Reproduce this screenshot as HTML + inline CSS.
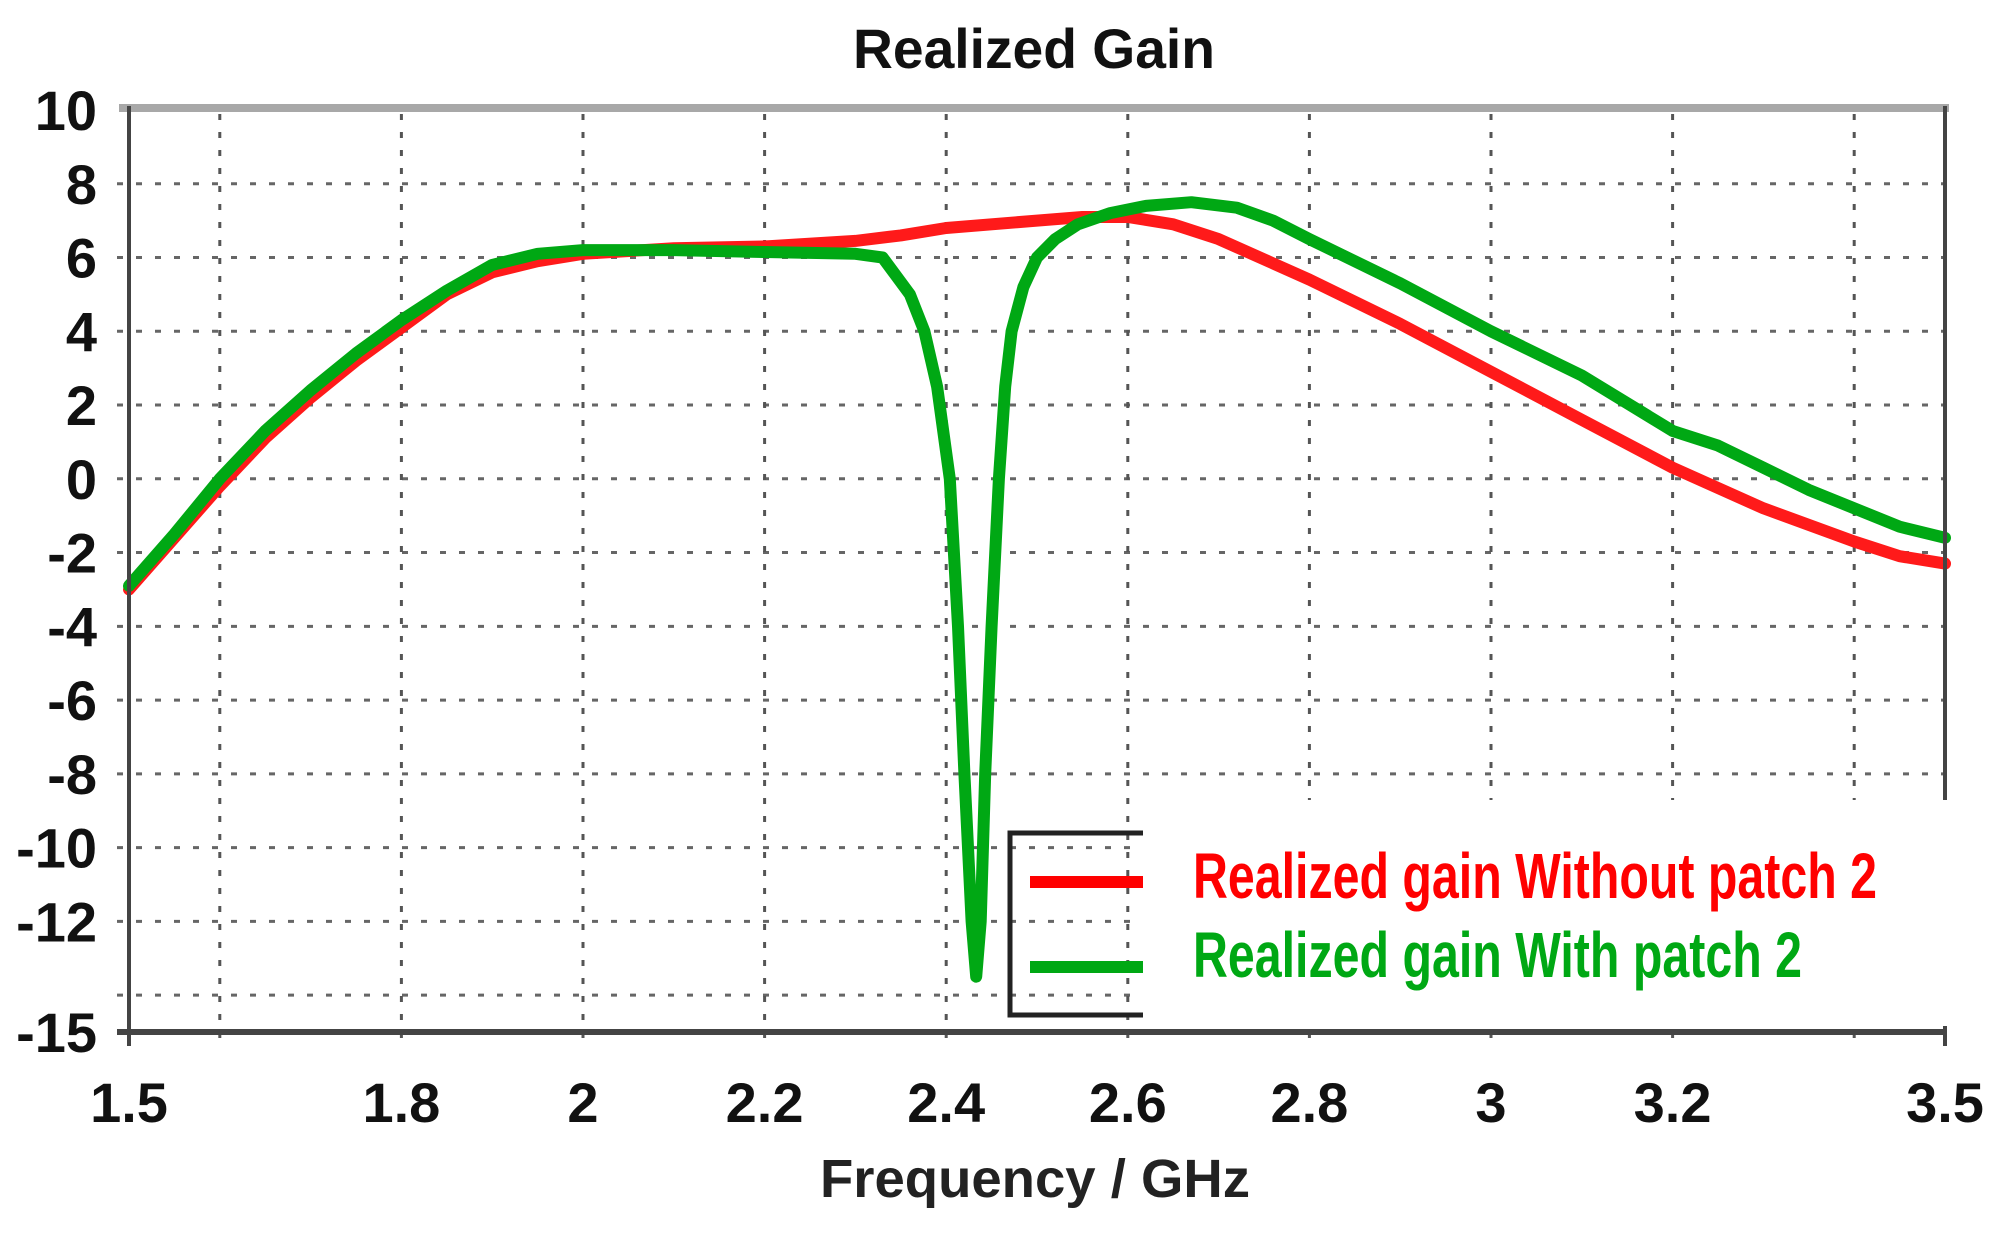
<!DOCTYPE html>
<html><head><meta charset="utf-8"><style>
html,body{margin:0;padding:0;background:#fff;}
svg{display:block;font-family:"Liberation Sans",sans-serif;}
</style></head><body>
<svg id="chart" width="2008" height="1234" viewBox="0 0 2008 1234" xmlns="http://www.w3.org/2000/svg">
<rect x="0" y="0" width="2008" height="1234" fill="#fff"/>
<g id="grid"></g>
<g id="series"></g>
<g id="axes"></g>
<text x="1034" y="68" text-anchor="middle" font-size="56" font-weight="bold" fill="#111" textLength="362" lengthAdjust="spacingAndGlyphs">Realized Gain</text>
<text x="1035" y="1197" text-anchor="middle" font-size="54" font-weight="bold" fill="#222" textLength="430" lengthAdjust="spacingAndGlyphs">Frequency / GHz</text>
<g>
<rect x="1143" y="800" width="820" height="226" fill="#fff"/>
<path d="M1143 833 H1010 V1015 H1143" fill="none" stroke="#222" stroke-width="5"/>
<line x1="1030" y1="882" x2="1143" y2="882" stroke="#ff0000" stroke-width="12"/>
<line x1="1030" y1="967" x2="1143" y2="967" stroke="#00a814" stroke-width="12"/>
<text x="1193" y="898" font-size="64" font-weight="bold" fill="#ff0000" textLength="684" lengthAdjust="spacingAndGlyphs">Realized gain Without patch 2</text>
<text x="1193" y="977" font-size="64" font-weight="bold" fill="#00a814" textLength="609" lengthAdjust="spacingAndGlyphs">Realized gain With patch 2</text>
</g>
</svg>
<script>
const redFreq = [1.5,1.55,1.6,1.65,1.7,1.75,1.8,1.85,1.9,1.95,2.0,2.1,2.2,2.3,2.35,2.4,2.5,2.55,2.6,2.65,2.7,2.8,2.9,3.0,3.1,3.2,3.3,3.4,3.45,3.5];
const redGain = [-3.0,-1.6,-0.2,1.1,2.2,3.2,4.1,5.0,5.6,5.9,6.1,6.25,6.3,6.45,6.6,6.8,7.0,7.1,7.1,6.9,6.5,5.4,4.2,2.9,1.6,0.3,-0.8,-1.7,-2.1,-2.3];
const greenFreq = [1.5,1.55,1.6,1.65,1.7,1.75,1.8,1.85,1.9,1.95,2.0,2.1,2.2,2.3,2.33,2.36,2.376,2.39,2.404,2.413,2.42,2.428,2.433,2.438,2.443,2.45,2.458,2.465,2.472,2.485,2.5,2.52,2.545,2.58,2.62,2.67,2.72,2.76,2.8,2.9,3.0,3.1,3.2,3.25,3.3,3.35,3.4,3.45,3.5];
const greenGain = [-2.9,-1.5,0.0,1.3,2.4,3.4,4.3,5.1,5.8,6.1,6.2,6.2,6.15,6.1,6.0,5.0,4.0,2.5,0.0,-4.0,-8.0,-12.0,-13.5,-12.0,-8.0,-4.0,0.0,2.5,4.0,5.2,6.0,6.5,6.9,7.2,7.4,7.5,7.35,7.0,6.5,5.3,4.0,2.8,1.3,0.9,0.3,-0.3,-0.8,-1.3,-1.6];
const yTicks = [10,8,6,4,2,0,-2,-4,-6,-8,-10,-12,-15];
const yGrid = [8,6,4,2,0,-2,-4,-6,-8,-10,-12,-14];
const xTicks = [1.5,1.8,2,2.2,2.4,2.6,2.8,3,3.2,3.5];
const xGrid = [1.6,1.8,2.0,2.2,2.4,2.6,2.8,3.0,3.2,3.4];

const NS='http://www.w3.org/2000/svg';
const X0=129, X1=1945, Y0=110, Y1=1032;
function xs(f){return X0+(f-1.5)*(X1-X0)/2.0;}
function ys(v){return Y0+(10-v)*(Y1-Y0)/25;}
function mk(tag,attrs,parent){const e=document.createElementNS(NS,tag);for(const k in attrs)e.setAttribute(k,attrs[k]);parent.appendChild(e);return e;}
const grid=document.getElementById('grid'), series=document.getElementById('series'), axes=document.getElementById('axes');
yGrid.forEach(v=>{
  const l=mk('line',{x1:X0-12,x2:X1,y1:ys(v),y2:ys(v),stroke:'#666','stroke-width':3,'stroke-dasharray':'6 13'},grid);
  
  
});
xGrid.forEach(f=>{
  const l=mk('line',{x1:xs(f),x2:xs(f),y1:Y0+4,y2:Y1+12,stroke:'#555','stroke-width':3,'stroke-dasharray':'6 12'},grid);
  
  
});
function drawLine(fr,gn,color,name){
  const d=fr.map((f,i)=>(i?'L':'M')+xs(f).toFixed(1)+' '+ys(gn[i]).toFixed(1)).join(' ');
  const p=mk('path',{d:d,fill:'none',stroke:color,'stroke-width':12,'stroke-linejoin':'round','stroke-linecap':'round'},series);
  
  
}
drawLine(redFreq,redGain,'#ff1a1a','series-without-patch-2');
drawLine(greenFreq,greenGain,'#00a814','series-with-patch-2');
mk('line',{x1:X0-10,x2:X1+4,y1:108,y2:108,stroke:'#a8a8a8','stroke-width':8},axes);
mk('line',{x1:X0,x2:X0,y1:106,y2:Y1+14,stroke:'#444','stroke-width':4},axes);
mk('line',{x1:X1,x2:X1,y1:106,y2:Y1+14,stroke:'#444','stroke-width':4},axes);
mk('line',{x1:X0-12,x2:X1,y1:Y1,y2:Y1,stroke:'#444','stroke-width':6},axes);
yTicks.forEach(v=>{
  const t=mk('text',{x:97,y:ys(v)+20,'text-anchor':'end','font-size':56,'font-weight':'bold',fill:'#111'},axes);
  t.textContent=String(v);
  
  
});
xTicks.forEach(f=>{
  const t=mk('text',{x:xs(f),y:1122,'text-anchor':'middle','font-size':56,'font-weight':'bold',fill:'#111'},axes);
  t.textContent=String(f);
  
  
});
</script>
</body></html>
